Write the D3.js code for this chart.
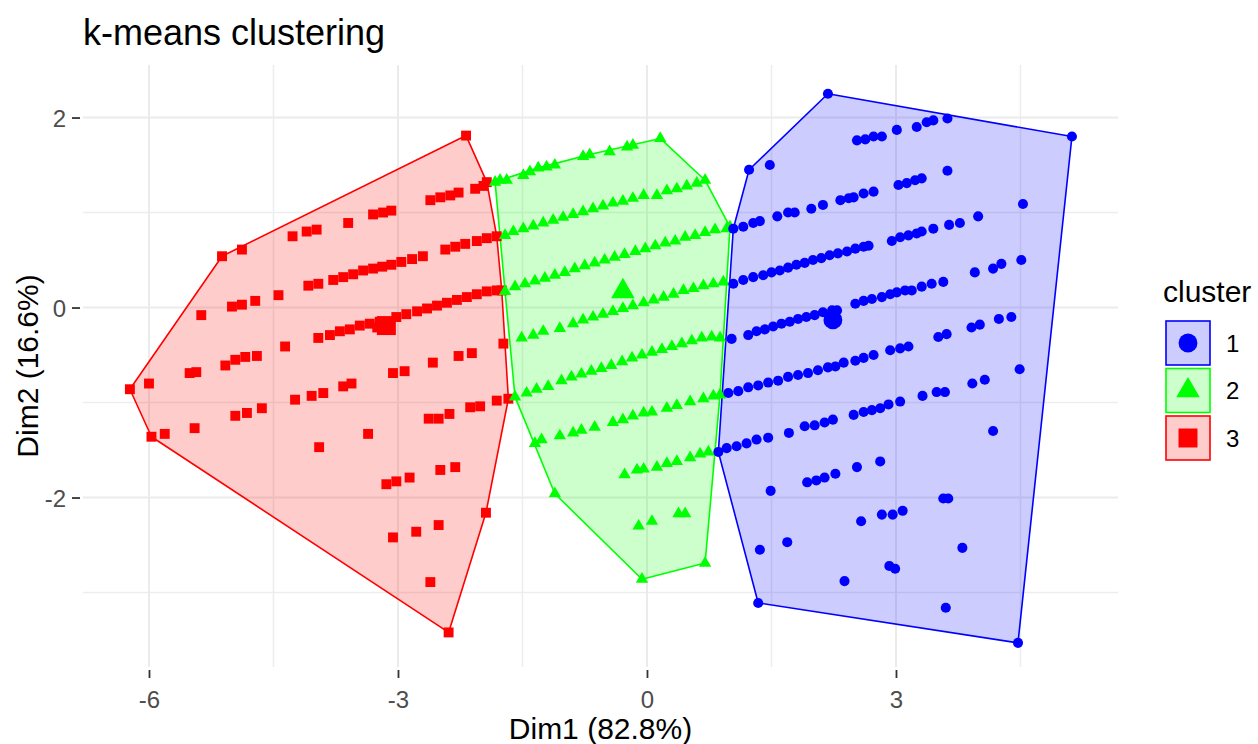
<!DOCTYPE html>
<html>
<head>
<meta charset="utf-8">
<script src="https://cdn.jsdelivr.net/npm/d3@7"></script>
<style>
  body { margin: 0; background: #fff; }
  text { font-family: "Liberation Sans", Arial, sans-serif; }
</style>
</head>
<body>
<svg id="chart" width="1258" height="744"></svg>
<script>
window.onload = function () {

  /* --- data: PCA coordinates (Dim1, Dim2) per cluster --- */
  var clusterNames = ["1", "2", "3"]
  var xTicks = [-6, -3, 0, 3]
  var yTicks = [-2, 0, 2]
  var xMinor = [-4.5, -1.5, 1.5, 4.5]
  var yMinor = [-3, -1, 1]
  var xDomain = [-6.795, 5.675]
  var yDomain = [-3.784, 2.553]

  var cluster1 = [
    [2.18,2.25],[1.23,1.45],[1.48,1.50],[5.12,1.80],
    [2.53,1.76],[2.63,1.77],[2.73,1.80],[2.83,1.80],[3.01,1.87],[3.25,1.90],[3.37,1.95],[3.45,1.97],[3.62,1.99],
    [1.04,0.83],[1.16,0.85],[1.28,0.89],[1.36,0.91],[1.57,0.96],[1.70,1.00],[1.78,1.00],[1.98,1.04],[2.12,1.08],
    [2.33,1.13],[2.43,1.15],[2.49,1.16],[2.61,1.20],[2.73,1.22],[3.03,1.29],[3.13,1.31],[3.23,1.34],[3.31,1.36],[3.62,1.44],
    [1.04,0.25],[1.16,0.29],[1.28,0.32],[1.40,0.34],[1.50,0.37],[1.60,0.39],[1.70,0.42],[1.80,0.45],[1.90,0.47],
    [2.00,0.50],[2.10,0.52],[2.20,0.55],[2.30,0.57],[2.41,0.59],[2.51,0.62],[2.61,0.64],[2.67,0.65],
    [2.95,0.70],[3.05,0.74],[3.15,0.76],[3.25,0.78],[3.31,0.80],[3.45,0.83],[3.64,0.87],[3.77,0.89],[3.99,0.96],[4.53,1.09],
    [1.02,-0.33],[1.22,-0.29],[1.32,-0.25],[1.42,-0.23],[1.52,-0.20],[1.62,-0.17],[1.72,-0.15],[1.82,-0.12],[1.92,-0.10],
    [2.02,-0.08],[2.12,-0.05],[2.23,-0.03],[2.29,-0.03],[2.51,0.04],[2.61,0.07],[2.71,0.09],[2.83,0.11],[2.93,0.14],
    [3.01,0.16],[3.11,0.18],[3.19,0.18],[3.31,0.22],[3.43,0.25],[3.57,0.27],[3.95,0.37],[4.17,0.41],[4.27,0.46],[4.51,0.50],
    [0.98,-0.90],[1.10,-0.88],[1.22,-0.84],[1.34,-0.82],[1.46,-0.79],[1.58,-0.77],[1.70,-0.73],[1.82,-0.71],[1.94,-0.69],
    [2.06,-0.66],[2.18,-0.63],[2.27,-0.62],[2.37,-0.58],[2.51,-0.56],[2.61,-0.53],[2.73,-0.50],[2.93,-0.45],[3.05,-0.43],
    [3.15,-0.41],[3.51,-0.31],[3.61,-0.28],[3.91,-0.21],[4.01,-0.18],[4.24,-0.12],[4.39,-0.10],[3.92,-0.80],[4.07,-0.76],[4.49,-0.65],
    [0.86,-1.52],[0.96,-1.48],[1.08,-1.46],[1.20,-1.43],[1.32,-1.39],[1.46,-1.37],[1.71,-1.32],[1.90,-1.25],[2.02,-1.24],
    [2.14,-1.21],[2.24,-1.18],[2.49,-1.13],[2.61,-1.10],[2.71,-1.08],[2.81,-1.06],[2.91,-1.02],[3.05,-0.99],[3.32,-0.93],
    [3.49,-0.89],[3.59,-0.89],[4.17,-1.30],
    [1.49,-1.93],[1.93,-1.84],[2.04,-1.82],[2.14,-1.79],[2.27,-1.75],[2.53,-1.68],[2.81,-1.62],[3.57,-2.01],[3.63,-2.01],
    [2.83,-2.18],[2.96,-2.18],[3.08,-2.14],[2.58,-2.25],[1.36,-2.55],[1.69,-2.47],[2.92,-2.72],[2.99,-2.75],[2.38,-2.88],
    [3.80,-2.53],[1.34,-3.11],[3.60,-3.16],[4.47,-3.53]
  ]

  var cluster2 = [
    [-1.83,1.32],[-1.77,1.34],[-1.69,1.34],[-1.49,1.39],[-1.41,1.43],[-1.31,1.47],[-1.21,1.48],[-1.11,1.50],
    [-0.77,1.59],[-0.69,1.61],[-0.45,1.64],[-0.24,1.69],[-0.17,1.71],[0.16,1.78],
    [-1.71,0.76],[-1.61,0.80],[-1.49,0.83],[-1.37,0.86],[-1.25,0.89],[-1.13,0.92],[-1.01,0.95],[-0.89,0.98],[-0.77,1.01],
    [-0.65,1.04],[-0.53,1.07],[-0.41,1.10],[-0.29,1.12],[-0.17,1.15],[-0.04,1.18],[0.12,1.18],[0.24,1.23],[0.36,1.25],
    [0.48,1.28],[0.60,1.31],[0.70,1.34],
    [-1.71,0.17],[-1.59,0.22],[-1.47,0.25],[-1.35,0.28],[-1.23,0.31],[-1.11,0.34],[-0.99,0.37],[-0.87,0.41],[-0.75,0.44],
    [-0.63,0.47],[-0.51,0.50],[-0.39,0.53],[-0.27,0.56],[-0.14,0.59],[-0.02,0.62],[0.10,0.65],[0.22,0.68],[0.34,0.70],
    [0.46,0.74],[0.58,0.76],[0.70,0.79],[0.82,0.82],[0.96,0.83],[1.00,0.85],
    [-1.51,-0.32],[-1.37,-0.29],[-1.25,-0.25],[-1.05,-0.22],[-0.89,-0.17],[-0.77,-0.13],[-0.65,-0.10],[-0.53,-0.07],
    [-0.41,-0.04],[-0.29,-0.01],[-0.17,0.02],[-0.04,0.05],[0.08,0.08],[0.20,0.11],[0.32,0.14],[0.44,0.18],[0.56,0.20],
    [0.68,0.23],[0.80,0.25],[0.92,0.27],
    [-1.59,-0.94],[-1.45,-0.90],[-1.33,-0.86],[-1.19,-0.83],[-1.03,-0.77],[-0.91,-0.73],[-0.79,-0.70],[-0.67,-0.67],
    [-0.55,-0.64],[-0.43,-0.61],[-0.30,-0.57],[-0.18,-0.53],[-0.06,-0.50],[0.06,-0.47],[0.18,-0.44],[0.30,-0.41],
    [0.42,-0.38],[0.54,-0.35],[0.66,-0.32],[0.78,-0.31],[0.88,-0.32],
    [-1.35,-1.43],[-1.27,-1.39],[-1.05,-1.35],[-0.89,-1.32],[-0.79,-1.29],[-0.63,-1.26],[-0.41,-1.21],[-0.29,-1.18],
    [-0.17,-1.14],[-0.04,-1.11],[0.06,-1.10],[0.24,-1.06],[0.36,-1.03],[0.52,-0.99],[0.68,-0.96],[0.80,-0.93],[0.88,-0.92],
    [-0.27,-1.76],[-0.12,-1.71],[-0.04,-1.70],[0.12,-1.68],[0.24,-1.64],[0.36,-1.62],[0.52,-1.58],[0.64,-1.54],[0.74,-1.52],
    [-1.11,-1.96],[-0.10,-2.30],[0.06,-2.25],[0.38,-2.17],[0.46,-2.17],[-0.06,-2.86],[0.70,-2.69]
  ]

  var cluster3 = [
    [-2.18,1.81],[-1.93,1.32],[-1.97,1.28],[-2.07,1.25],[-2.27,1.21],[-2.37,1.18],[-2.49,1.16],[-2.61,1.13],
    [-3.08,1.02],[-3.18,1.00],[-3.30,0.98],[-3.60,0.89],[-3.98,0.82],[-4.10,0.80],[-4.27,0.75],[-4.88,0.61],[-5.12,0.54],
    [-4.08,0.23],[-3.96,0.25],[-3.78,0.29],[-3.66,0.32],[-3.54,0.35],[-3.42,0.39],[-3.30,0.41],[-3.19,0.43],[-3.08,0.45],
    [-2.96,0.48],[-2.83,0.51],[-2.70,0.54],[-2.43,0.61],[-2.31,0.64],[-2.19,0.67],[-2.05,0.70],[-1.93,0.73],[-1.81,0.75],
    [-4.44,0.13],[-4.72,0.07],[-4.88,0.03],[-5.00,0.01],[-5.37,-0.08],
    [-3.96,-0.32],[-3.82,-0.29],[-3.70,-0.25],[-3.58,-0.23],[-3.46,-0.19],[-3.34,-0.17],[-3.22,-0.15],[-3.25,-0.21],
    [-3.14,-0.18],[-3.02,-0.10],[-2.90,-0.07],[-2.77,-0.04],[-2.65,-0.01],[-2.53,0.02],[-2.41,0.05],[-2.29,0.08],
    [-2.17,0.11],[-2.05,0.14],[-1.93,0.17],[-1.81,0.18],[-1.75,0.18],
    [-4.36,-0.41],
    [-5.51,-0.69],[-5.43,-0.68],[-5.08,-0.61],[-4.96,-0.55],[-4.84,-0.52],[-4.70,-0.51],[-3.06,-0.69],[-2.92,-0.67],
    [-2.58,-0.58],[-2.27,-0.51],[-2.11,-0.48],[-1.73,-0.38],[-6.00,-0.80],[-6.23,-0.86],
    [-4.96,-1.14],[-4.82,-1.11],[-4.64,-1.06],[-4.24,-0.97],[-4.04,-0.93],[-3.90,-0.90],[-3.66,-0.83],[-3.56,-0.80],
    [-2.63,-1.17],[-2.51,-1.17],[-2.38,-1.12],[-2.13,-1.05],[-2.01,-1.04],[-1.81,-0.98],[-1.67,-0.96],
    [-5.45,-1.27],[-5.97,-1.36],[-5.81,-1.33],[-3.36,-1.33],[-3.95,-1.47],
    [-3.14,-1.86],[-3.02,-1.83],[-2.86,-1.79],[-2.49,-1.71],[-2.31,-1.68],[-1.94,-2.16],[-3.06,-2.42],[-2.78,-2.36],
    [-2.51,-2.29],[-2.61,-2.89],[-2.39,-3.42]
  ]

  var centers = [[2.24, -0.13], [-0.29, 0.17], [-3.14, -0.19]]

  /* --- styles --- */
  var colors = ["#0000FF", "#00FF00", "#FF0000"]
  var shapes = [d3.symbolCircle, d3.symbolTriangle, d3.symbolSquare]
  var pointSize = [80, 66, 98]
  var centerSize = [280, 240, 360]
  var clusters = [cluster1, cluster2, cluster3]

  var left = 83, right = 1118, top = 65, bottom = 667

  var svg = d3.select("#chart")

  var x = d3.scaleLinear().domain(xDomain).range([left, right])
  var y = d3.scaleLinear().domain(yDomain).range([bottom, top])

  /* grid */
  var grid = svg.append("g")
  grid.selectAll(".vmin").data(xMinor).enter().append("line")
      .attr("x1", d => x(d)).attr("x2", d => x(d))
      .attr("y1", top).attr("y2", bottom)
      .attr("stroke", "#ededed").attr("stroke-width", 1.5)
  grid.selectAll(".hmin").data(yMinor).enter().append("line")
      .attr("y1", d => y(d)).attr("y2", d => y(d))
      .attr("x1", left).attr("x2", right)
      .attr("stroke", "#ededed").attr("stroke-width", 1.5)
  grid.selectAll(".vmaj").data(xTicks).enter().append("line")
      .attr("x1", d => x(d)).attr("x2", d => x(d))
      .attr("y1", top).attr("y2", bottom)
      .attr("stroke", "#ebebeb").attr("stroke-width", 2)
  grid.selectAll(".hmaj").data(yTicks).enter().append("line")
      .attr("y1", d => y(d)).attr("y2", d => y(d))
      .attr("x1", left).attr("x2", right)
      .attr("stroke", "#ebebeb").attr("stroke-width", 2)

  /* axes (plain hyphen minus like R) */
  var fmt = function (d) { return String(d) }
  var xAxis = svg.append("g")
      .attr("transform", "translate(0," + (bottom + 3) + ")")
      .call(d3.axisBottom(x).tickValues(xTicks).tickSize(8).tickPadding(13).tickFormat(fmt))
  var yAxis = svg.append("g")
      .attr("transform", "translate(" + (left - 3) + ",0)")
      .call(d3.axisLeft(y).tickValues(yTicks).tickSize(8).tickPadding(6).tickFormat(fmt))
  ;[xAxis, yAxis].forEach(function (ax) {
    ax.select(".domain").remove()
    ax.selectAll(".tick line").attr("stroke", "#333333").attr("stroke-width", 1.8)
    ax.selectAll(".tick text").attr("fill", "#4d4d4d").style("font-size", "24px")
        .style("font-family", "'Liberation Sans', Arial, sans-serif")
  })
  yAxis.selectAll(".tick text").attr("dy", "0.36em")

  /* hulls */
  var hullLayer = svg.append("g")
  clusters.forEach(function (pts, i) {
    var hull = d3.polygonHull(pts.map(p => [x(p[0]), y(p[1])]))
    hullLayer.append("path")
        .attr("d", "M" + hull.join("L") + "Z")
        .attr("fill", colors[i]).attr("fill-opacity", 0.2)
        .attr("stroke", colors[i]).attr("stroke-width", 1.6)
        .attr("stroke-linejoin", "round")
  })

  /* points */
  var pointLayer = svg.append("g")
  ;[2, 1, 0].forEach(function (i) {
    pointLayer.selectAll(".p" + i).data(clusters[i]).enter().append("path")
        .attr("transform", d => "translate(" + x(d[0]) + "," + y(d[1]) + ")")
        .attr("d", d3.symbol().type(shapes[i]).size(pointSize[i]))
        .attr("fill", colors[i])
  })

  /* centroids */
  svg.append("g").selectAll("path").data(centers).enter().append("path")
      .attr("transform", d => "translate(" + x(d[0]) + "," + y(d[1]) + ")")
      .attr("d", (d, i) => d3.symbol().type(shapes[i]).size(centerSize[i])())
      .attr("fill", (d, i) => colors[i])

  /* titles */
  svg.append("text").attr("x", left).attr("y", 45)
      .style("font-size", "36px").attr("fill", "#000").text("k-means clustering")
  svg.append("text").attr("x", (left + right) / 2).attr("y", 739)
      .attr("text-anchor", "middle").style("font-size", "30px").text("Dim1 (82.8%)")
  svg.append("text")
      .attr("transform", "translate(38," + ((top + bottom) / 2) + ") rotate(-90)")
      .attr("text-anchor", "middle").style("font-size", "30px").text("Dim2 (16.6%)")

  /* legend */
  var legend = svg.append("g")
  legend.append("text").attr("x", 1163).attr("y", 302)
      .style("font-size", "30px").text("cluster")
  clusterNames.forEach(function (name, i) {
    var ky = 321 + i * 47.5
    legend.append("rect")
        .attr("x", 1166).attr("y", ky).attr("width", 44).attr("height", 44)
        .attr("fill", colors[i]).attr("fill-opacity", 0.2)
        .attr("stroke", colors[i]).attr("stroke-width", 1.6)
    legend.append("path")
        .attr("transform", "translate(1188," + (ky + 22) + ")")
        .attr("d", d3.symbol().type(shapes[i]).size(centerSize[i])())
        .attr("fill", colors[i])
    legend.append("text").attr("x", 1226).attr("y", ky + 22)
        .attr("dy", "0.36em").style("font-size", "24px").text(name)
  })
}
</script>
</body>
</html>
